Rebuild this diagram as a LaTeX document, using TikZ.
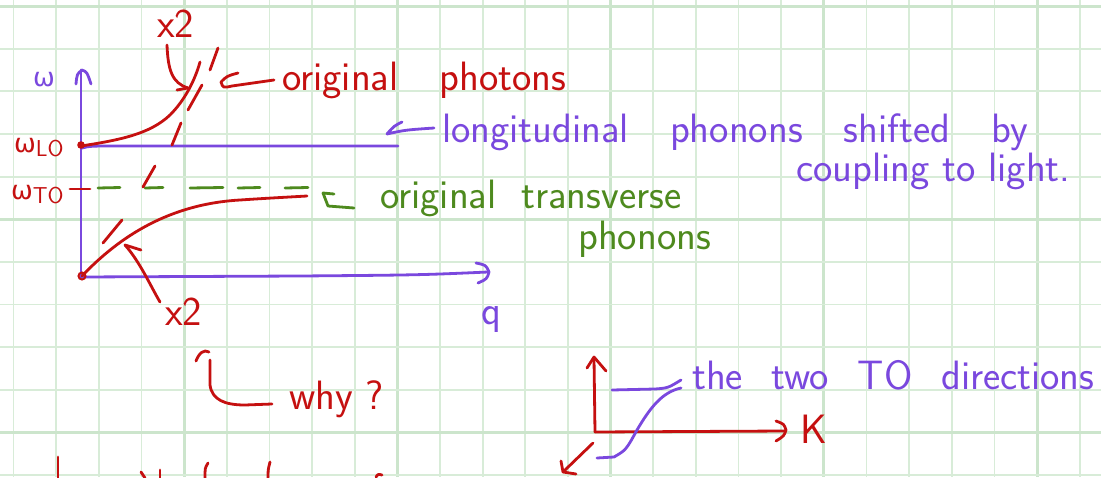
\documentclass[tikz,border=0pt]{standalone}
\usepackage{fontspec}
\newfontfamily\grk{DejaVu Sans}
\definecolor{pred}{RGB}{197,16,16}
\definecolor{ppur}{RGB}{122,72,222}
\definecolor{pgrn}{RGB}{78,138,30}
\definecolor{gthin}{RGB}{216,236,216}
\definecolor{gthick}{RGB}{204,229,204}
\newcommand\wgap[1]{\hspace{#1em}}
\newcommand\omg{{\grk\fontsize{26}{28}\selectfont ω}}
\newcommand\lbl[1]{\raisebox{-0.12em}{\sffamily\fontsize{23}{25}\selectfont #1}}
\tikzset{
  pen/.style={line width=2.8pt, line cap=round, line join=round},
  rpen/.style={pen, pred},
  ppen/.style={pen, ppur},
  gpen/.style={pen, pgrn},
  hw/.style={inner sep=0pt, anchor=base west, font=\sffamily\fontsize{41}{46}\selectfont},
}
\begin{document}
\begin{tikzpicture}[x=1pt,y=-1pt]
\useasboundingbox (0,0) rectangle (1101,477);
\fill[white] (0,0) rectangle (1101,477);
% grid
\foreach \k in {0,...,25}{
  \pgfmathtruncatemacro{\m}{mod(\k,5)}
  \ifnum\m=4
    \draw[gthick, line width=3pt] ({13.5+42.65*\k},0) -- ({13.5+42.65*\k},477);
  \else
    \draw[gthin, line width=1.8pt] ({13.5+42.65*\k},0) -- ({13.5+42.65*\k},477);
  \fi
}
\foreach \k in {0,...,11}{
  \pgfmathtruncatemacro{\m}{mod(\k,5)}
  \ifnum\m=0
    \draw[gthick, line width=3pt] (0,{6+42.65*\k}) -- (1101,{6+42.65*\k});
  \else
    \draw[gthin, line width=1.8pt] (0,{6+42.65*\k}) -- (1101,{6+42.65*\k});
  \fi
}
% ---------- main axes ----------
\coordinate (O) at (81,277);
\coordinate (ytop) at (81,70);
\coordinate (xend) at (488,272);
\draw[ppen] (O) -- (ytop);
\draw[ppen] (76,84) .. controls (77,74) .. (82,70) .. controls (87,72) .. (91,84);
\draw[ppen] (O) -- (300,276) .. controls (420,275) .. (xend);
\draw[ppen] (476,263) .. controls (486,265) .. (489,272) .. controls (487,279) .. (478,283);
\node[hw, ppur] (w) at (33,86) {\omg};
\node[hw, ppur] (q) at (481,324) {q};
% omega LO line
\coordinate (LOa) at (82,148);
\coordinate (LOb) at (398,146);
\draw[ppen] (LOa) .. controls (90,146) .. (120,146) -- (LOb);
\node[hw, pred] (wlo) at (14,152) {\omg\lbl{LO}};
\node[hw, pred] (wto) at (11,199) {\omg\lbl{TO}};
% red dot and origin circle
\fill[pred] (81,145) circle (3.8pt);
\draw[pred, line width=2pt] (82,276) circle (3.5pt);
% TO tick and green dashed line
\draw[rpen] (70,189) -- (90,189);
\foreach \a/\b in {98/120,145/163,190/223,238/260,285/308}{
  \draw[gpen] (\a,188) -- (\b,187.5);
}
% photon dashes
\foreach \a/\b/\c/\d in {103/243/122/220, 143/187/155/166, 172/145/181/123, 188/110/202/85, 210/70/218/48}{
  \draw[rpen] (\a,\b) -- (\c,\d);
}
% upper polariton
\draw[rpen] (81,146) .. controls (120,140) and (150,134) .. (170,115) .. controls (185,100) and (195,80) .. (200,62);
% lower polariton
\draw[rpen] (82,276) .. controls (120,236) and (170,204) .. (240,200) .. controls (270,198) and (290,197) .. (307,196);
% x2 upper arrow
\node[hw, pred] (x2a) at (157,37) {x2};
\coordinate (x2atip) at (188,88);
\draw[rpen] (167,45) .. controls (168,70) and (172,83) .. (x2atip);
\draw[rpen] (177,90) -- (x2atip);
% original photons arrow + text
\draw[rpen] (238,73) .. controls (227,76) .. (221,82) .. controls (223,88) .. (232,86) -- (274,80);
\node[hw, pred] (origph) at (282,90) {original\wgap{1}photons};
% longitudinal text arrow
\draw[ppen] (402,122) .. controls (394,126) .. (387,134) .. controls (405,130) .. (434,128);
\node[hw, ppur] (long1) at (442,142) {longitudinal\wgap{1}phonons\wgap{1}shifted\wgap{1}by};
\node[hw, ppur] (long2) at (796,181) {coupling to light.};
% green arrow + text
\draw[gpen] (334,194) -- (323,193) -- (328,206) -- (354,208);
\node[hw, pgrn] (origtr) at (380,208) {original\wgap{0.6}transverse};
\node[hw, pgrn] (phon) at (578,249) {phonons};
% lower x2 arrow
\coordinate (x2btip) at (125,245);
\draw[rpen] (160,302) .. controls (150,285) and (140,262) .. (x2btip);
\draw[rpen] (141,250) -- (x2btip);
\node[hw, pred] (x2b) at (165,325) {x2};
% why? hook
\draw[rpen] (196,361) .. controls (199,353) and (204,349) .. (209,352);
\draw[rpen] (210,360) -- (210,385) .. controls (212,400) and (225,405) .. (245,405) -- (272,404);
\node[hw, pred] (why) at (289,409) {why ?};
% ---------- small diagram ----------
\coordinate (o2) at (595,432);
\draw[rpen] (o2) -- (594,358);
\draw[rpen] (587,368) -- (594,357) -- (606,371);
\draw[rpen] (o2) -- (785,431);
\draw[rpen] (776,421) .. controls (784,424) .. (786,430) .. controls (784,436) .. (776,441);
\node[hw, pred] (K) at (800,443) {K};
\draw[rpen] (593,443) -- (563,472);
\draw[rpen] (561,461) -- (563,472) -- (576,474);
\draw[ppen] (612,390) -- (655,389) .. controls (668,388) .. (681,380);
\draw[ppen] (597,458) -- (614,457) .. controls (626,450) .. (637,430) .. controls (650,408) and (662,392) .. (681,388);
\node[hw, ppur] (two) at (692,389) {the\wgap{0.7}two\wgap{0.7}TO\wgap{0.7}directions};
% cut-off strokes at the bottom
\draw[rpen] (58,457) -- (58,478);
\draw[rpen] (141,472) -- (145,478);
\draw[rpen] (160,470) -- (160,478);
\draw[rpen] (205,478) .. controls (205,468) .. (208,463);
\draw[rpen] (270,462) .. controls (268,470) .. (268,478);
\draw[rpen] (376,477) .. controls (378,474) .. (382,475);
\end{tikzpicture}
\end{document}
